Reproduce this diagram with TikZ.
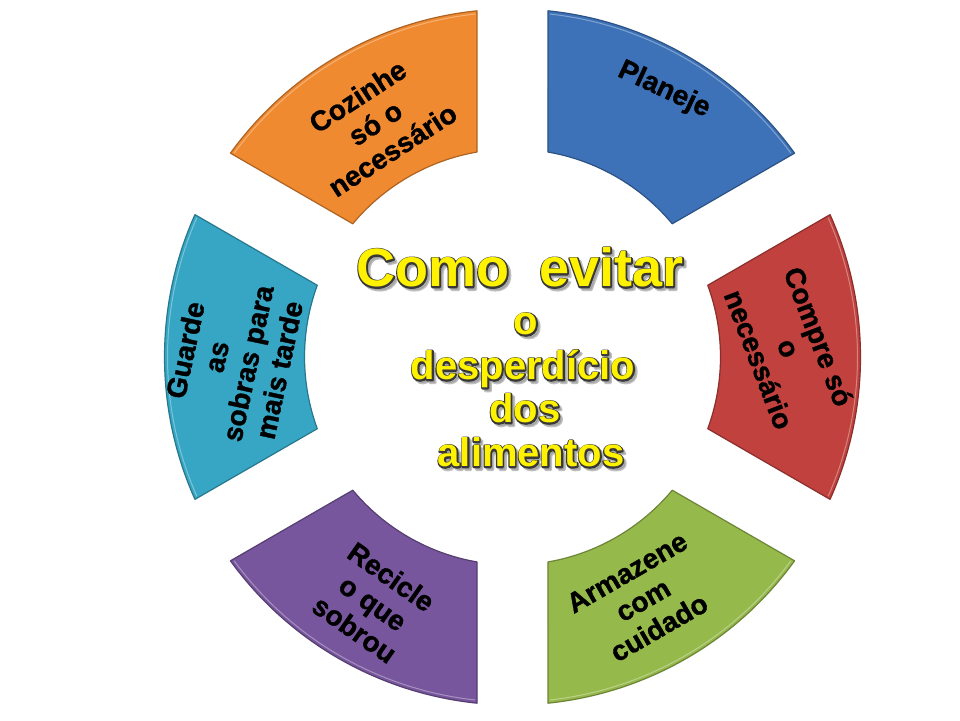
\documentclass[tikz,border=0pt]{standalone}
\usepackage{fontspec}
\setmainfont{Liberation Sans}
\newfontfamily\heavyfont{Liberation Sans}[BoldFeatures={FakeBold=1.2}]
\usetikzlibrary{calc}
\definecolor{segblue}{HTML}{3D72B8}
\definecolor{segorange}{HTML}{F08A30}
\definecolor{segred}{HTML}{C0413D}
\definecolor{seggreen}{HTML}{96B94B}
\definecolor{segpurple}{HTML}{77569D}
\definecolor{segteal}{HTML}{36A6C4}
\newcommand\ringseg[3]{%
  \path[fill=#3, draw=#3!72!black, line width=1.2pt, line join=round]
    ($(C)+(#1+5.855:348)$) arc[start angle=#1+5.855, end angle=#2-5.855, radius=348pt]
    -- ($(C)+(#2-9.826:208)$) arc[start angle=#2-9.826, end angle=#1+9.826, radius=208pt]
    -- cycle;
  \path[draw=white, opacity=0.35, line width=1pt]
    ($(C)+(#1+6.2:345)$) arc[start angle=#1+6.2, end angle=#2-6.2, radius=345pt];
}
\newcommand\widestroke[1]{\special{pdf:code 2 Tr 2.8 w 1 j}#1\special{pdf:code 0 Tr 0 j}}
\newcommand\ytext[4]{% name, position, size, text
  \node[ctext, font=\bfseries\fontsize{#3}{#3}\selectfont, text=black!45, opacity=0.55] at ($#2+(2.6,-2.6)$) {\widestroke{#4}};
  \node[ctext, font=\bfseries\fontsize{#3}{#3}\selectfont, text=black!78] at #2 {\widestroke{#4}};
  \node[ctext, font=\bfseries\fontsize{#3}{#3}\selectfont, text=yellow] (#1) at #2 {#4};
}
\begin{document}
\begin{tikzpicture}[x=1pt, y=1pt,
  lbl/.style={font=\heavyfont\bfseries\fontsize{28}{32}\selectfont, align=center, text=black, inner sep=0pt},
  ctext/.style={anchor=base, inner sep=0pt}]
\fill[white] (0,0) rectangle (960,720);
\useasboundingbox (0,0) rectangle (960,720);
\coordinate (C) at (512.5,363);
\ringseg{30}{90}{segblue}
\ringseg{90}{150}{segorange}
\ringseg{150}{210}{segteal}
\ringseg{210}{270}{segpurple}
\ringseg{270}{330}{seggreen}
\ringseg{330}{390}{segred}
\ytext{c1}{(520,433)}{54}{Como\ \ evitar}
\ytext{c2}{(526,385)}{40}{o}
\ytext{c3}{(523,340)}{40}{desperdício}
\ytext{c4}{(525,297)}{40}{dos}
\ytext{c5}{(531,253)}{40}{alimentos}
\node[lbl, rotate=-25] (planeje) at (664,630) {Planeje};
\node[lbl, rotate=33] (cozinhe) at (375,597) {Cozinhe\\só o\\necessário};
\node[lbl, rotate=78] (guarde) at (232,360) {Guarde\\as\\sobras para\\mais tarde};
\node[lbl, rotate=-35] (recicle) at (373,117) {Recicle\\o que\\sobrou};
\node[lbl, rotate=30] (armazene) at (643,120) {Armazene\\com\\cuidado};
\node[lbl, rotate=-69] (compre) at (789,372) {Compre só\\o\\necessário};
\end{tikzpicture}
\end{document}
